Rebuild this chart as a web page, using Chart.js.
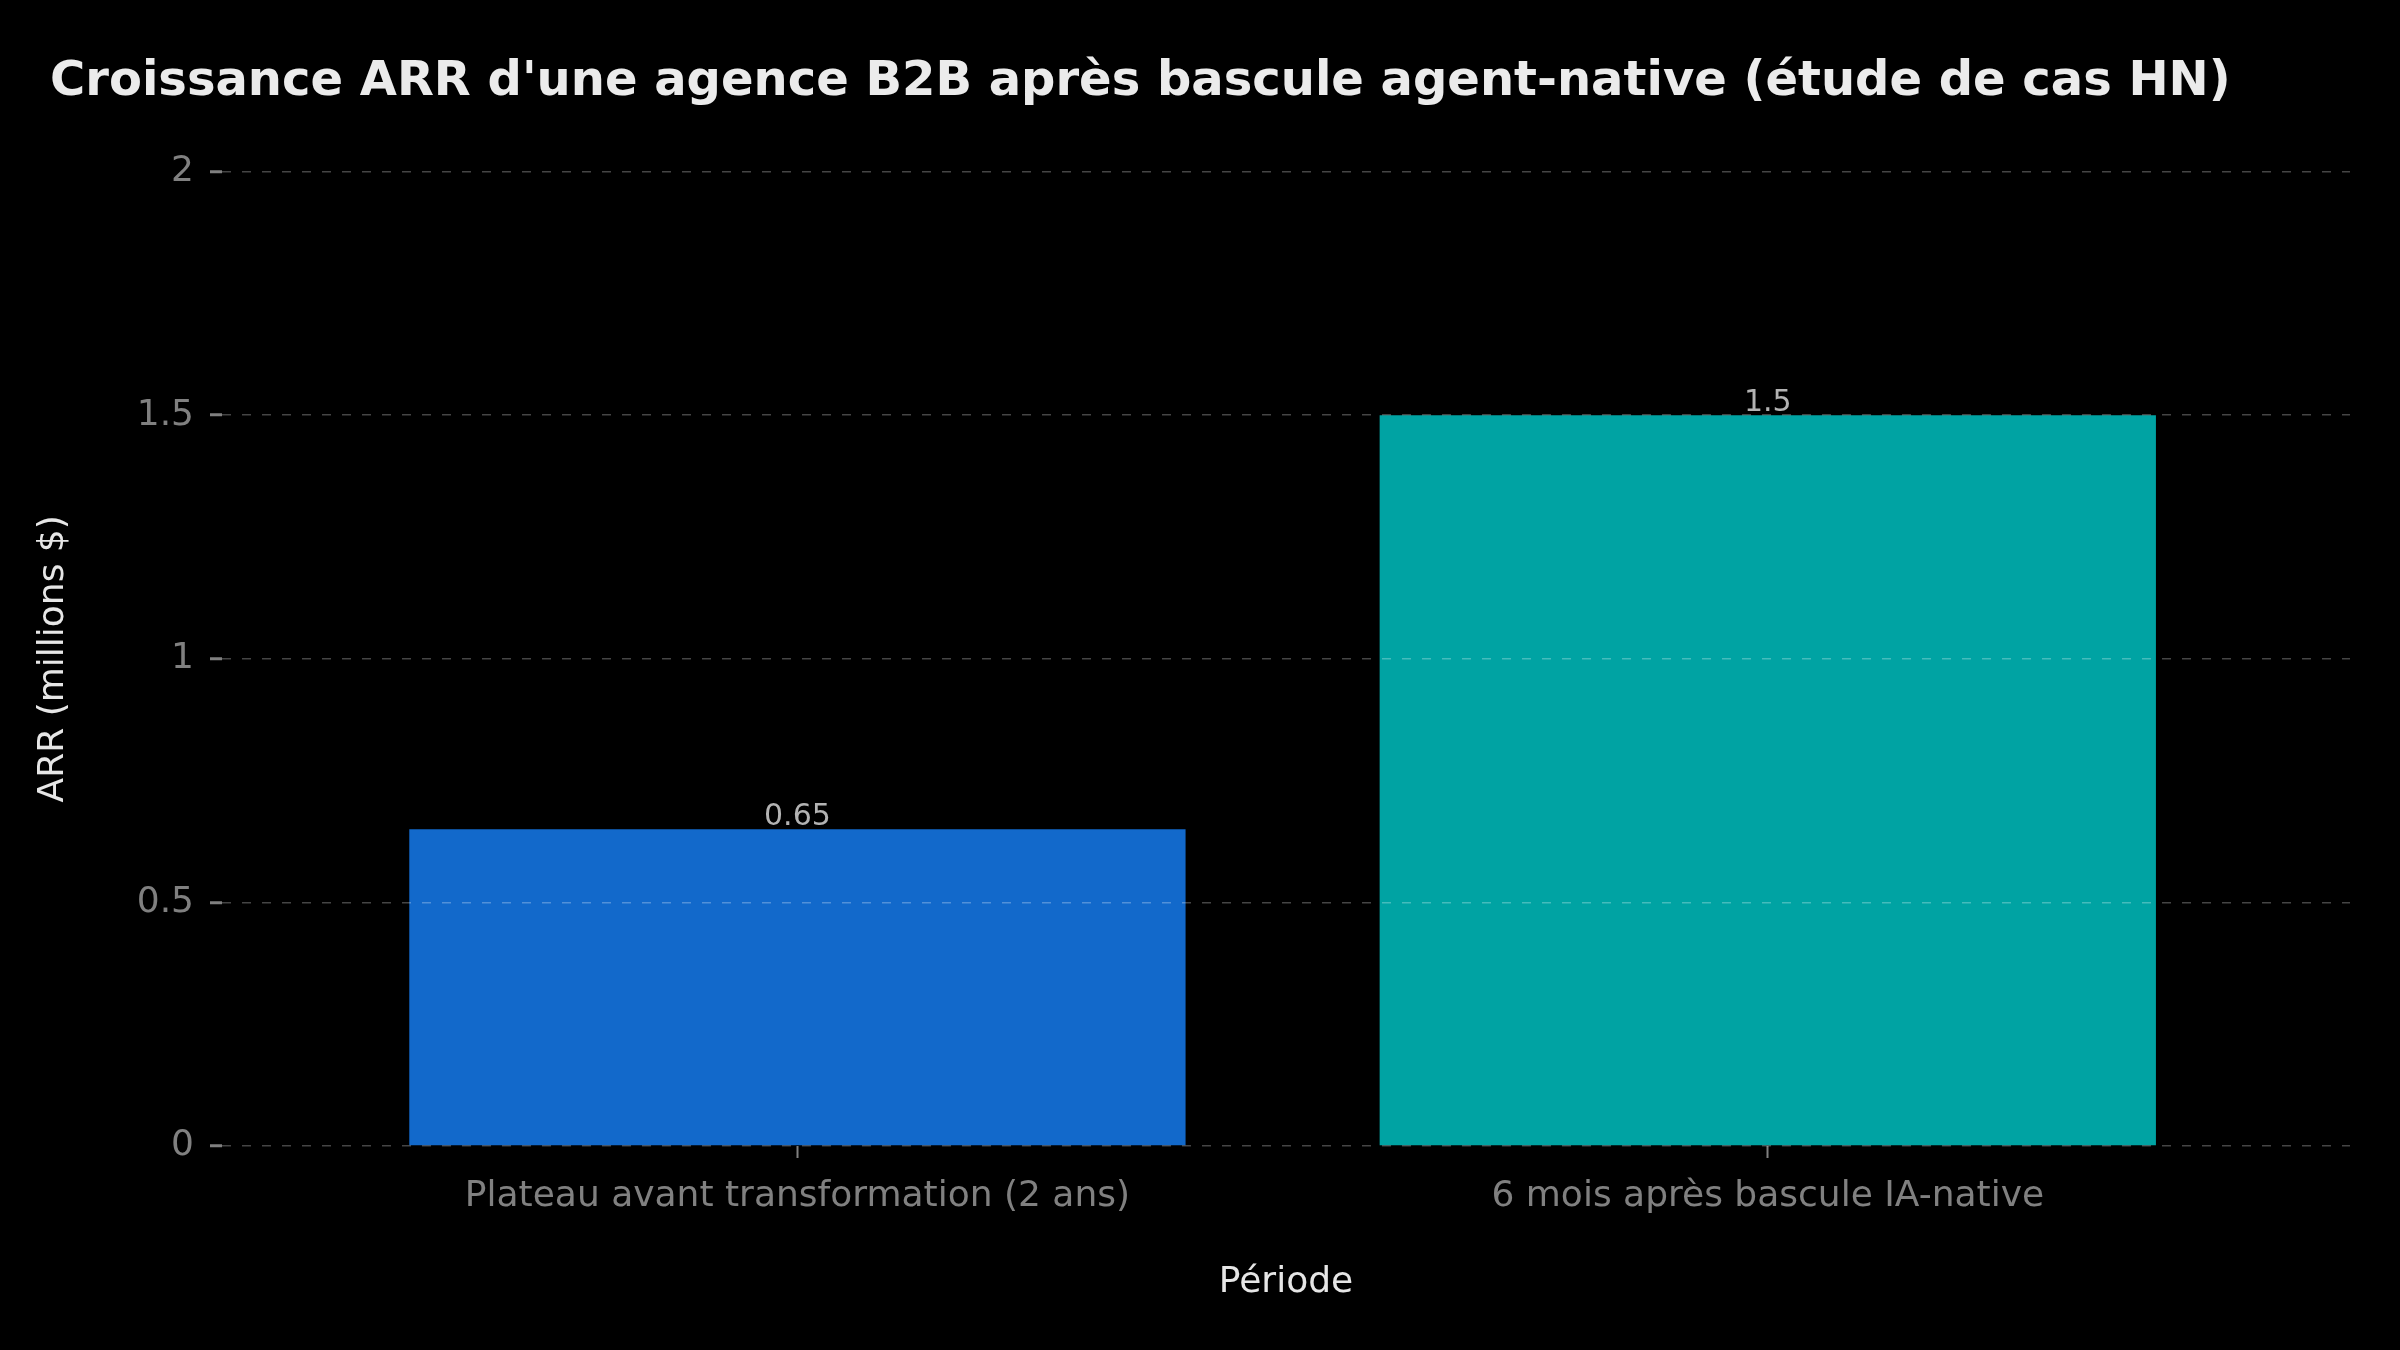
<!DOCTYPE html>
<html>
<head>
<meta charset="utf-8">
<script src="https://cdn.jsdelivr.net/npm/chart.js@4.4.1/dist/chart.umd.min.js"></script>
<style>
  html, body { margin: 0; padding: 0; background: #000; }
  #wrap { width: 2400px; height: 1350px; }
</style>
</head>
<body>
<div id="wrap"><canvas id="c" width="2400" height="1350"></canvas></div>
<script>
const categories = ["Plateau avant transformation (2 ans)", "6 mois après bascule IA-native"];
const arrValues = [0.65, 1.5];
const barColors = ["#1269CB", "#00A3A3"];
const valueLabels = ["0.65", "1.5"];
const yTickValues = [0, 0.5, 1, 1.5, 2];
const yTickLabels = ["0", "0.5", "1", "1.5", "2"];
const chartTitle = "Croissance ARR d'une agence B2B après bascule agent-native (étude de cas HN)";
const xTitle = "Période";
const yTitle = "ARR (millions $)";

const FONT = "'DejaVu Sans', sans-serif";

const valueLabelPlugin = {
  id: 'valueLabels',
  afterDatasetsDraw(chart) {
    const ctx = chart.ctx;
    const meta = chart.getDatasetMeta(0);
    ctx.save();
    ctx.font = "30px " + FONT;
    ctx.fillStyle = "#b3b3b3";
    ctx.textAlign = "center";
    ctx.textBaseline = "bottom";
    meta.data.forEach((bar, i) => {
      ctx.fillText(valueLabels[i], bar.x, bar.y + 3);
    });
    ctx.restore();
  }
};

const bgPlugin = {
  id: 'bg',
  beforeDraw(chart) {
    const ctx = chart.ctx;
    ctx.save();
    ctx.fillStyle = "#000";
    ctx.fillRect(0, 0, chart.width, chart.height);
    ctx.restore();
  }
};

new Chart(document.getElementById('c'), {
  type: 'bar',
  data: {
    datasets: [{
      data: arrValues.map((v, i) => ({ x: i, y: v })),
      backgroundColor: barColors,
      borderWidth: 0,
      barPercentage: 0.8,
      categoryPercentage: 1.0
    }]
  },
  plugins: [bgPlugin, valueLabelPlugin],
  options: {
    responsive: false,
    animation: false,
    devicePixelRatio: 1,
    layout: { padding: { left: 50, right: 50, top: 0, bottom: 0 } },
    plugins: {
      legend: { display: false },
      tooltip: { enabled: false },
      title: {
        display: true,
        text: chartTitle,
        align: 'start',
        color: "#ebebeb",
        font: { family: FONT, size: 48, weight: 'bold', lineHeight: 1.2 },
        padding: { top: 54, bottom: 60 }
      }
    },
    scales: {
      x: {
        type: 'linear',
        min: -0.593,
        max: 1.6,
        offset: false,
        border: { display: false },
        grid: {
          offset: false,
          display: true,
          drawOnChartArea: false,
          drawTicks: true,
          tickLength: 12,
          tickColor: "#808080",
          tickWidth: 2
        },
        afterBuildTicks(scale) {
          scale.ticks = categories.map((c, i) => ({ value: i }));
        },
        afterFit(scale) { scale.height = 204; },
        ticks: {
          color: "#808080",
          font: { family: FONT, size: 36 },
          padding: 17,
          maxRotation: 0,
          autoSkip: false,
          callback: (v) => categories[v]
        },
        title: {
          display: true,
          text: xTitle,
          color: "#e6e6e6",
          font: { family: FONT, size: 36, lineHeight: 1 },
          padding: { top: 0, bottom: 49 }
        }
      },
      y: {
        min: 0,
        max: 2,
        border: { display: false, dash: [9, 11] },
        grid: {
          display: true,
          z: 1,
          color: "rgba(255,255,255,0.27)",
          lineWidth: 1.5,
          drawTicks: true,
          tickLength: 12,
          tickColor: "#808080",
          tickWidth: 3,
          tickBorderDash: []
        },
        afterBuildTicks(scale) {
          scale.ticks = yTickValues.map(v => ({ value: v }));
        },
        afterFit(scale) { scale.width = 172; },
        ticks: {
          color: "#808080",
          font: { family: FONT, size: 36 },
          padding: 16,
          callback: (v) => yTickLabels[yTickValues.indexOf(v)]
        },
        title: {
          display: true,
          text: yTitle,
          color: "#e6e6e6",
          font: { family: FONT, size: 36, lineHeight: 1 },
          padding: { top: -14, bottom: 0 }
        }
      }
    }
  }
});
</script>
</body>
</html>
